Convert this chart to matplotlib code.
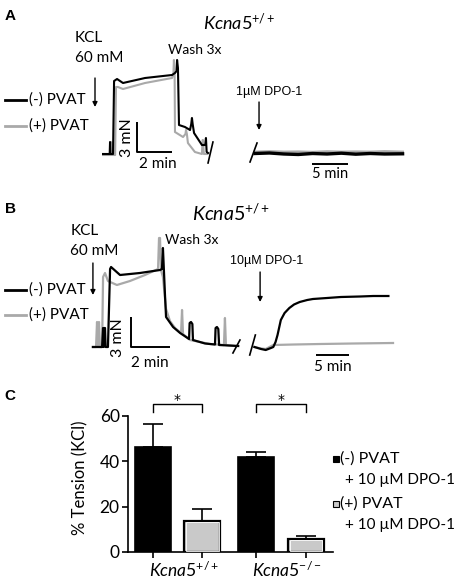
import numpy as np
import matplotlib.pyplot as plt
from matplotlib.lines import Line2D
from matplotlib.patches import Rectangle

W, H = 459, 586
plt.rcParams['font.family'] = ['Lato', 'DejaVu Sans']
plt.rcParams['mathtext.fontset'] = 'custom'
plt.rcParams['mathtext.it'] = 'Lato:italic'
plt.rcParams['mathtext.rm'] = 'Lato'
plt.rcParams['mathtext.default'] = 'it'

BLACK = '#000000'
GREY = '#a9a9a9'
BARGREY = '#c9c9c9'

# ---- panel A: KCl trace (time in min, tension in mN)
a_neg_t = [0.46, 0.84, 0.86, 0.88, 1.03, 1.09, 1.26, 1.6, 2.86, 4.4, 4.57, 4.66, 4.69, 4.74, 4.8,
           5.14, 5.43, 5.5, 5.54, 5.58, 5.66, 6.11, 6.3, 6.34, 6.38, 6.46]
a_neg_f = [0, 0, 1.2, 0, 0, 7.3, 7.5, 7.1, 7.6, 7.9, 8.1, 8.3, 9.4, 8.6, 2.9,
           2.7, 2.4, 3.0, 3.6, 3.0, 2.1, 0.9, 0.9, 1.6, 0.2, 0.1]
a_pos_t = [0.46, 0.93, 0.97, 1.0, 1.15, 1.2, 1.31, 1.6, 2.86, 4.4, 4.48, 4.51, 4.55, 4.57,
           5.03, 5.17, 5.2, 5.25, 5.31, 5.71, 6.11, 6.15, 6.17, 6.22, 6.4]
a_pos_f = [-0.1, -0.1, 1.2, -0.1, -0.1, 6.7, 6.7, 6.5, 7.1, 7.6, 8.0, 9.4, 8.0, 2.2,
           1.7, 2.0, 2.4, 2.0, 1.1, 0.2, 0.0, 1.4, 1.4, 0.0, 0.0]
# panel A: 1 uM DPO-1
a_dpo_t = [0, 2, 4, 6, 8, 10, 12, 14, 16, 18, 20.5]
a_dpo_neg = [0.05, 0.1, 0.0, -0.05, 0.05, 0.0, 0.08, -0.02, 0.05, 0.0, 0.02]
a_dpo_pos = [0.2, 0.25, 0.2, 0.22, 0.18, 0.24, 0.2, 0.22, 0.2, 0.25, 0.2]

# ---- panel B: KCl trace
b_neg_t = [0.15, 0.62, 0.67, 0.7, 0.74, 0.77, 0.8, 0.92, 1.03, 1.08, 1.54, 2.56, 3.59, 3.69, 3.74,
           3.85, 3.9, 4.26, 4.62, 5.08, 5.11, 5.18, 5.25, 5.28, 5.9, 6.41, 6.44, 6.51, 6.58, 6.62, 7.6]
b_neg_f = [0, 0, 1.9, 0, 1.9, 1.9, 0, 0, 7.8, 8.0, 7.2, 7.4, 7.7, 7.8, 9.9,
           5.0, 3.0, 2.0, 1.4, 0.8, 2.4, 2.5, 2.3, 0.7, 0.35, 0.25, 1.9, 2.0, 1.8, 0.2, 0.1]
b_pos_t = [0.15, 0.31, 0.36, 0.41, 0.46, 0.51, 0.62, 0.67, 0.77, 0.92, 1.38, 2.05, 2.82, 3.49,
           3.54, 3.59, 3.64, 3.74, 3.9, 4.1, 4.36, 4.67, 4.72, 4.77, 5.13, 6.15, 6.87, 6.92, 6.97, 7.49]
b_pos_f = [0, 0, 2.5, 0.2, 2.5, 0, 0, 7.0, 7.4, 6.6, 6.2, 6.6, 7.2, 7.8,
           10.9, 10.9, 7.7, 7.0, 3.8, 2.6, 1.9, 1.4, 3.7, 1.3, 0.7, 0.3, 0.2, 2.9, 0.2, 0.1]
# panel B: 10 uM DPO-1
b_dpo_neg_t = [0, 1.0, 1.71, 2.5, 2.86, 3.2, 3.5, 4.0, 4.57, 5.29, 6.0, 6.86, 8.0, 8.86, 11, 13.1, 16, 18, 20.3]
b_dpo_neg_f = [0, -0.2, -0.3, -0.1, 0, 0.5, 1.2, 2.7, 3.4, 3.9, 4.25, 4.5, 4.7, 4.8, 4.9, 5.0, 5.05, 5.1, 5.1]
b_dpo_pos_t = [0, 1.0, 1.71, 2.86, 6, 10, 15, 21]
b_dpo_pos_f = [0, -0.15, -0.2, 0.2, 0.25, 0.3, 0.35, 0.4]

# ---- panel C: % tension (KCl)
groups = ['Kcna5^{+/+}', 'Kcna5^{-/-}']
neg_mean = [46.3, 41.9]
neg_err = [10.2, 2.1]
pos_mean = [13.7, 5.7]
pos_err = [5.3, 1.3]

fig = plt.figure(figsize=(W / 100, H / 100), dpi=100)


def px_axes(x0, y0, x1, y1):
    ax = fig.add_axes([x0 / W, 1 - y1 / H, (x1 - x0) / W, (y1 - y0) / H])
    ax.set_axis_off()
    return ax


def ftext(x, y, s, **kw):
    return fig.text(x / W, 1 - y / H, s, **kw)


def fline(xs, ys, **kw):
    fig.add_artist(Line2D([x / W for x in xs], [1 - y / H for y in ys], **kw))


def arrow(ax, x, y0, y1):
    ax.annotate('', xy=(x, y1), xytext=(x, y0),
                arrowprops=dict(arrowstyle='-|>', color='k', lw=1.0,
                                mutation_scale=7, shrinkA=0, shrinkB=0))


def scalebar(ax, x, y, dx, dy, w=1.4):
    ax.plot([x, x, x + dx] if dy else [x, x + dx], [y + dy, y, y] if dy else [y, y],
            color='k', lw=w, solid_capstyle='butt')


# panel letters & titles
for lab, y in [('A', 16), ('B', 209), ('C', 396)]:
    ftext(10, y, lab, family='Liberation Sans', weight='bold', fontsize=11, ha='center', va='center')
ftext(203, 30, r'$Kcna5^{+/+}$', fontsize=13, va='baseline')
ftext(192, 221, r'$Kcna5^{+/+}$', fontsize=14, va='baseline')

# legends for traces
for yb, yg in [(100, 126), (290, 315)]:
    fline([5, 26], [yb, yb], color=BLACK, lw=2.0)
    fline([5, 26], [yg, yg], color=GREY, lw=2.0)
    ftext(29, yb, '(-) PVAT', fontsize=11, va='center')
    ftext(29, yg, '(+) PVAT', fontsize=11, va='center')

# ---- A left
ax = px_axes(95, 40, 225, 175)
ax.set_xlim(0, 130 / 17.5)
ax.set_ylim(-2.1, 11.4)
ax.plot(a_pos_t, a_pos_f, color=GREY, lw=1.5)
ax.plot(a_neg_t, a_neg_f, color=BLACK, lw=1.5)
ax.plot([6.46, 6.74], [-0.9, 1.2], color='k', lw=1.2)
scalebar(ax, 2.4, 0.2, 2.0, 3.0)
ax.text(1.85, 1.6, '3 mN', rotation=90, ha='center', va='center', fontsize=11.5)
ax.text(3.6, -0.95, '2 min', ha='center', va='center', fontsize=11)
ax.text(4.15, 10.4, 'Wash 3x', ha='left', va='center', fontsize=10)
ax.text(-1.15, 11.6, 'KCL', ha='left', va='center', fontsize=11)
ax.text(-1.15, 9.6, '60 mM', ha='left', va='center', fontsize=11)
arrow(ax, 0.0, 7.6, 4.7)

# ---- A right
ax = px_axes(245, 40, 410, 175)
ax.set_xlim(-10 / 7.2, 155 / 7.2)
ax.set_ylim(-2.1, 11.4)
ax.plot(a_dpo_t, a_dpo_pos, color=GREY, lw=2.0)
ax.plot(a_dpo_t, a_dpo_neg, color=BLACK, lw=2.4)
ax.plot([-0.69, 0.28], [-0.8, 1.1], color='k', lw=1.2)
scalebar(ax, 7.9, -1.0, 5.0, 0)
ax.text(10.4, -2.0, '5 min', ha='center', va='center', fontsize=10.5)
ax.text(1.94, 6.2, '1µM DPO-1', ha='center', va='center', fontsize=9, family='Liberation Sans')
arrow(ax, 0.56, 5.2, 2.4)

# ---- B left
ax = px_axes(90, 225, 262, 375)
ax.set_xlim(0, 172 / 19.5)
ax.set_ylim(-2.8, 12.2)
ax.plot(b_pos_t, b_pos_f, color=GREY, lw=1.6)
ax.plot(b_neg_t, b_neg_f, color=BLACK, lw=1.6)
ax.plot([7.33, 7.69], [-0.6, 0.7], color='k', lw=1.2)
scalebar(ax, 2.1, 0.0, 2.0, 3.0)
ax.text(1.45, 0.9, '3 mN', rotation=90, ha='center', va='center', fontsize=11.5)
ax.text(3.05, -1.6, '2 min', ha='center', va='center', fontsize=11)
ax.text(3.85, 10.7, 'Wash 3x', ha='left', va='center', fontsize=10)
ax.text(-1.0, 11.6, 'KCL', ha='left', va='center', fontsize=11)
ax.text(-1.0, 9.6, '60 mM', ha='left', va='center', fontsize=11)
arrow(ax, 0.15, 8.4, 5.2)

# ---- B right
ax = px_axes(245, 225, 410, 375)
ax.set_xlim(-10 / 7, 165 / 7)
ax.set_ylim(-2.8, 12.2)
ax.plot(b_dpo_pos_t, b_dpo_pos_f, color=GREY, lw=1.6)
ax.plot(b_dpo_neg_t, b_dpo_neg_f, color=BLACK, lw=1.6)
ax.plot([-0.71, 0.14], [-0.8, 1.2], color='k', lw=1.2)
scalebar(ax, 9.4, -0.8, 5.0, 0)
ax.text(11.9, -2.0, '5 min', ha='center', va='center', fontsize=11)
ax.text(1.86, 8.6, '10µM DPO-1', ha='center', va='center', fontsize=9, family='Liberation Sans')
arrow(ax, 0.86, 7.5, 4.5)

# ---- C bar chart
axc = fig.add_axes([128 / W, 1 - 552 / H, 205 / W, 136 / H])
x = np.arange(len(groups))
off, bw = 0.24, 0.35
axc.bar(x - off, neg_mean, bw, color=BLACK, edgecolor=BLACK, lw=1.2, zorder=3)
axc.bar(x + off, pos_mean, bw, color=BARGREY, edgecolor=BLACK, lw=1.6, zorder=3)
axc.bar(x + off, np.array(pos_mean) - 0.9, bw - 0.035, bottom=0.45, fill=False,
        edgecolor='white', lw=0.6, zorder=4)
axc.errorbar(x - off, neg_mean, yerr=[np.zeros(2), neg_err], fmt='none', ecolor='k',
             elinewidth=1.2, capsize=7.5, capthick=1.2, zorder=2, clip_on=False)
axc.errorbar(x + off, pos_mean, yerr=[np.zeros(2), pos_err], fmt='none', ecolor='k',
             elinewidth=1.2, capsize=7.5, capthick=1.2, zorder=2, clip_on=False)
axc.set_xlim(-0.478, 1.502)
axc.set_ylim(0, 60)
axc.set_yticks([0, 20, 40, 60])
axc.set_xticks(np.concatenate([x - off, x + off]))
axc.set_xticklabels([])
for s in ['top', 'right']:
    axc.spines[s].set_visible(False)
for s in ['left', 'bottom']:
    axc.spines[s].set_linewidth(1.2)
axc.tick_params(width=1.2, length=4, labelsize=12.5, pad=2)
for xi in x:
    axc.plot([xi - off, xi - off, xi + off, xi + off], [61.8, 65.3, 65.3, 61.8],
             color='k', lw=1.0, clip_on=False)
    axc.text(xi, 67.0, '*', ha='center', va='center', fontsize=10, family='DejaVu Sans')
for xi, g in zip(x, groups):
    axc.text(xi + 0.06, -4.0, '$' + g + '$', ha='center', va='top', fontsize=12.5,
             transform=axc.transData)
ftext(80, 478, '% Tension (KCl)', rotation=90, ha='center', va='center', fontsize=12)

# legend C
for y0, col, l1 in [(459, BLACK, '(-) PVAT'), (504, BARGREY, '(+) PVAT')]:
    fig.add_artist(Rectangle(((333) / W, 1 - (y0 + 3) / H), 6 / W, 6 / H,
                             facecolor=col, edgecolor='k', lw=0.8, transform=fig.transFigure))
    ftext(340, y0, l1, fontsize=11.5, va='center')
    ftext(345, y0 + 21, '+ 10 µM DPO-1', fontsize=11, va='center')

fig.savefig('out.png', dpi=100)
